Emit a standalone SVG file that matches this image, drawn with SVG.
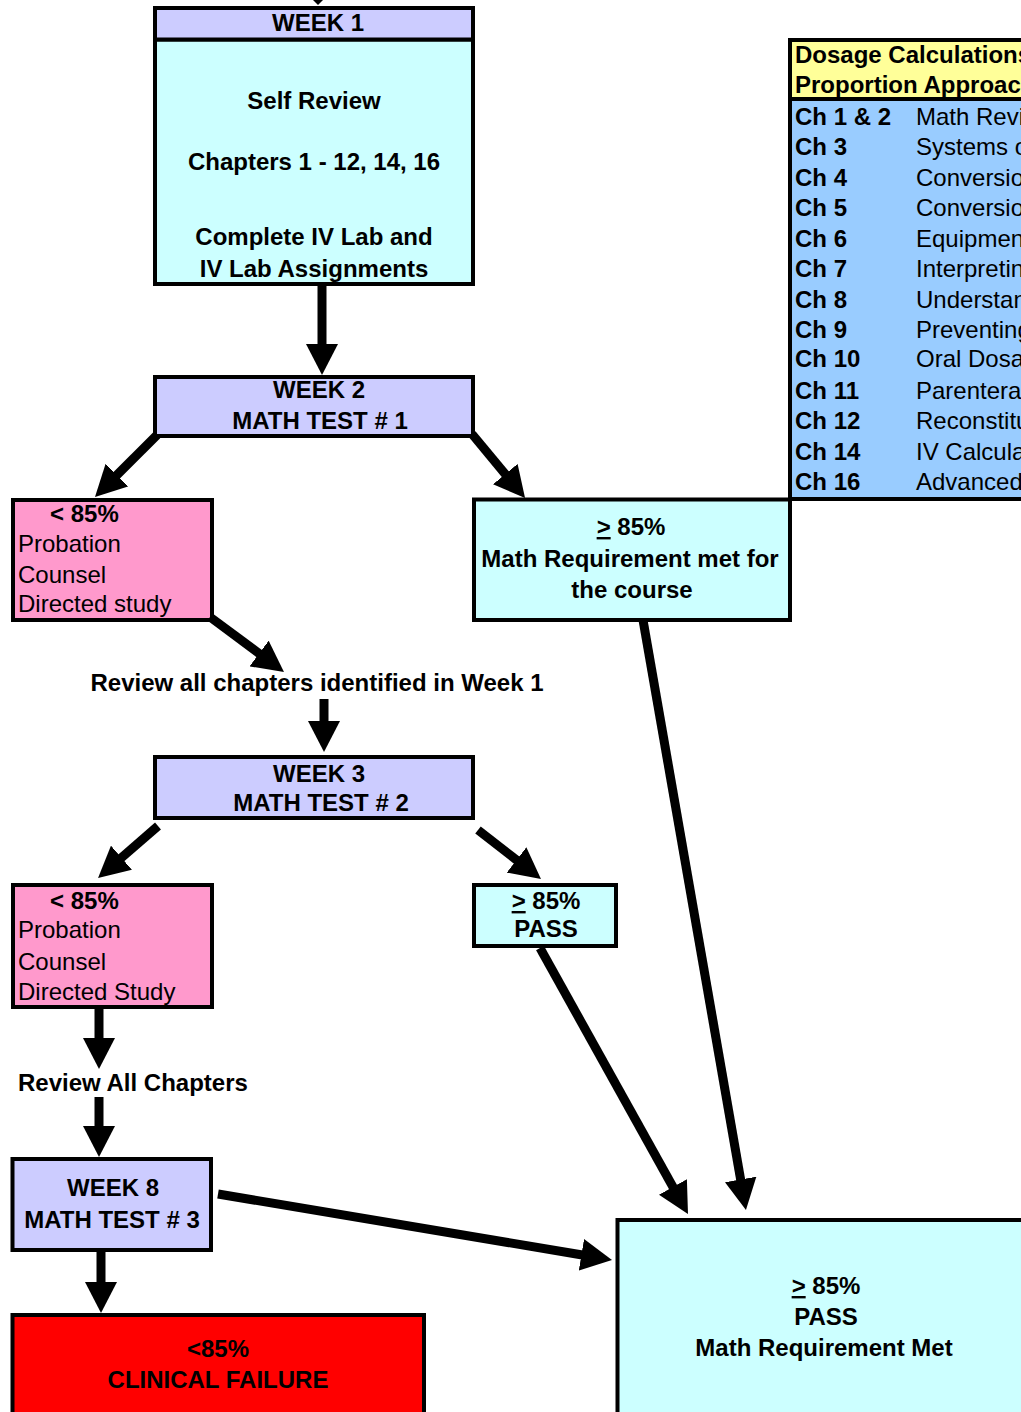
<svg xmlns="http://www.w3.org/2000/svg" width="1021" height="1412" viewBox="0 0 1021 1412">
<style>
.box{stroke:#000;stroke-width:4}
.hdr{fill:#CCCCFF}
.cyan{fill:#CCFFFF}
.pink{fill:#FF99CC}
.red{fill:#FF0000}
.yel{fill:#FFFF99}
.blue{fill:#99CCFF}
text{font-family:"Liberation Sans",Arial,sans-serif;font-size:24px;fill:#000}
.b{font-weight:bold}
.c{text-anchor:middle}
.u{text-decoration:underline}
.conn line{stroke:#000;stroke-width:9;marker-end:url(#ah)}
</style>
<defs>
<marker id="ah" markerUnits="userSpaceOnUse" viewBox="0 0 32 32" markerWidth="32" markerHeight="32" refX="1" refY="16" orient="auto">
<path d="M0,0 L31,16 L0,32 z" fill="#000"/>
</marker>
</defs>
<rect width="1021" height="1412" fill="#fff"/>

<g id="table">
<rect class="box yel" x="790" y="40" width="260" height="59"/>
<rect class="box blue" x="790" y="99" width="260" height="400"/>
<text class="b" x="795" y="63">Dosage Calculations</text>
<text class="b" x="795" y="93">Proportion Approach</text>
<g class="b">
<text x="795" y="125">Ch 1 &amp; 2</text>
<text x="795" y="155">Ch 3</text>
<text x="795" y="186">Ch 4</text>
<text x="795" y="216">Ch 5</text>
<text x="795" y="247">Ch 6</text>
<text x="795" y="277">Ch 7</text>
<text x="795" y="308">Ch 8</text>
<text x="795" y="338">Ch 9</text>
<text x="795" y="367">Ch 10</text>
<text x="795" y="399">Ch 11</text>
<text x="795" y="429">Ch 12</text>
<text x="795" y="460">Ch 14</text>
<text x="795" y="490">Ch 16</text>
</g>
<text x="916" y="125">Math Review</text>
<text x="916" y="155">Systems of</text>
<text x="916" y="186">Conversions</text>
<text x="916" y="216">Conversions</text>
<text x="916" y="247">Equipment</text>
<text x="916" y="277">Interpreting</text>
<text x="916" y="308">Understanding</text>
<text x="916" y="338">Preventing</text>
<text x="916" y="367">Oral Dosage</text>
<text x="916" y="399">Parenteral</text>
<text x="916" y="429">Reconstitution</text>
<text x="916" y="460">IV Calculations</text>
<text x="916" y="490">Advanced</text>
</g>

<g id="week1">
<rect class="box cyan" x="155" y="39.5" width="318" height="244.5"/>
<rect class="box hdr" x="155" y="8" width="318" height="31.5"/>
<text class="b c" x="318" y="31">WEEK 1</text>
<text class="b c" x="314" y="109">Self Review</text>
<text class="b c" x="314" y="170">Chapters 1 - 12, 14, 16</text>
<text class="b c" x="314" y="245">Complete IV Lab and</text>
<text class="b c" x="314" y="277">IV Lab Assignments</text>
</g>

<g id="week2">
<rect class="box hdr" x="155" y="377" width="318" height="59"/>
<text class="b c" x="319" y="398">WEEK 2</text>
<text class="b c" x="320" y="429">MATH TEST # 1</text>
</g>

<g id="fail1">
<rect class="box pink" x="13" y="500" width="199" height="120"/>
<text class="b" x="50" y="522">&lt; 85%</text>
<text x="18" y="552">Probation</text>
<text x="18" y="583">Counsel</text>
<text x="18" y="612">Directed study</text>
</g>

<g id="pass1">
<rect class="box cyan" x="474" y="499.5" width="316" height="120.5"/>
<text class="b c" x="631" y="535"><tspan class="u">&gt;</tspan> 85%</text>
<text class="b c" x="630" y="567">Math Requirement met for</text>
<text class="b c" x="632" y="598">the course</text>
</g>

<g id="review1">
<text class="b c" x="317" y="691">Review all chapters identified in Week 1</text>
</g>

<g id="week3">
<rect class="box hdr" x="155" y="757" width="318" height="61"/>
<text class="b c" x="319" y="782">WEEK 3</text>
<text class="b c" x="321" y="811">MATH TEST # 2</text>
</g>

<g id="fail2">
<rect class="box pink" x="13" y="885" width="199" height="122"/>
<text class="b" x="50" y="909">&lt; 85%</text>
<text x="18" y="938">Probation</text>
<text x="18" y="970">Counsel</text>
<text x="18" y="1000">Directed Study</text>
</g>

<g id="pass2">
<rect class="box cyan" x="474" y="885" width="142" height="61"/>
<text class="b c" x="546" y="909"><tspan class="u">&gt;</tspan> 85%</text>
<text class="b c" x="546" y="937">PASS</text>
</g>

<g id="review2">
<text class="b" x="18" y="1091">Review All Chapters</text>
</g>

<g id="week8">
<rect class="box hdr" x="12.5" y="1159" width="198.5" height="91"/>
<text class="b c" x="113" y="1196">WEEK 8</text>
<text class="b c" x="112" y="1228">MATH TEST # 3</text>
</g>

<g id="failure">
<rect class="box red" x="12.5" y="1315" width="411.5" height="120"/>
<text class="b c" x="218" y="1357">&lt;85%</text>
<text class="b c" x="218" y="1388">CLINICAL FAILURE</text>
</g>

<g id="final">
<rect class="box cyan" x="617.5" y="1220" width="440" height="220"/>
<text class="b c" x="826" y="1294"><tspan class="u">&gt;</tspan> 85%</text>
<text class="b c" x="826" y="1325">PASS</text>
<text class="b c" x="824" y="1356">Math Requirement Met</text>
</g>

<g id="connectors" class="conn">
<polygon points="313,0 323,0 318,5" fill="#000"/>
<line x1="322" y1="286" x2="322" y2="345"/>
<line x1="157" y1="435" x2="116.2" y2="475.8"/>
<line x1="472" y1="434" x2="505.9" y2="474.9"/>
<line x1="210" y1="617" x2="259.9" y2="654.1"/>
<line x1="324" y1="699" x2="324" y2="722"/>
<line x1="158" y1="826" x2="120.7" y2="858.4"/>
<line x1="478" y1="830" x2="517.3" y2="860.6"/>
<line x1="99" y1="1009" x2="99" y2="1039"/>
<line x1="99" y1="1097" x2="99" y2="1127"/>
<line x1="101" y1="1252" x2="101" y2="1283"/>
<line x1="218" y1="1194" x2="582.4" y2="1255"/>
<line x1="540" y1="948" x2="673.4" y2="1187.8"/>
<line x1="643" y1="620" x2="740.8" y2="1180.4"/>
</g>
</svg>
